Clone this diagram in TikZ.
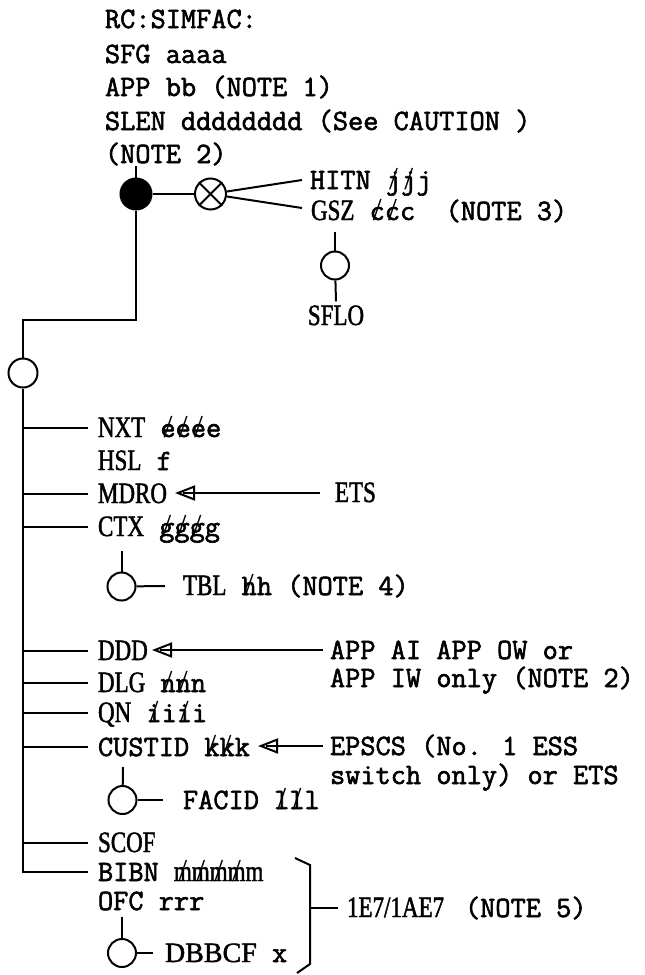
\documentclass[tikz,border=0pt]{standalone}
\usepackage{fontspec}
\setmainfont{Liberation Serif}
\newfontfamily\monof[FakeBold=2]{Latin Modern Mono}
\newfontfamily\condf[FakeStretch=0.78,FakeBold=1.5]{Liberation Serif}
\newfontfamily\serf[FakeBold=1.5]{Liberation Serif}
\newfontfamily\slashf{Liberation Serif}
\usetikzlibrary{arrows.meta,calc}
\newcommand\mno{\monof\fontsize{29.5}{34}\selectfont}
\newcommand\cnd{\condf\fontsize{29.5}{34}\selectfont}
\newcommand\rmn{\serf\fontsize{28}{34}\selectfont}
\newcommand\slt[1]{\ooalign{#1\cr\hidewidth{\slashf\fontsize{32}{34}\selectfont/}\hidewidth\cr}}
\begin{document}
\begin{tikzpicture}[x=1pt,y=-1pt,line width=2pt,
  tx/.style={inner sep=0pt,outer sep=0pt,anchor=base west},
  ring/.style={draw,circle,minimum size=28pt,inner sep=0pt},
  blob/.style={draw,fill=black,circle,minimum size=31pt,inner sep=0pt},
  tri/.style={-{Triangle[open,length=20pt,width=15pt]}}]
\useasboundingbox (0,0) rectangle (645,975);

% header
\node[tx] (h1) at (105,28) {\mno RC:SIMFAC:};
\node[tx] (h2) at (105,63) {\mno SFG aaaa};
\node[tx] (h3) at (105,96) {\mno APP bb (NOTE 1)};
\node[tx] (h4) at (105,130) {\mno SLEN dddddddd (See CAUTION )};
\node[tx] (h5) at (105,163) {\mno (NOTE 2)};

\node[blob] (F) at (136,194) {};
\node[ring,minimum size=31pt] (O) at (210.5,194) {};
\draw (O.north west) -- (O.south east) (O.north east) -- (O.south west);
\coordinate (fs) at (136,166);
\draw (fs) -- (F);
\draw (F) -- (O);

\node[tx] (hitn) at (310,189) {\mno HITN \slt{j}\slt{j}j};
\node[tx] (gsz) at (311,220) {\cnd GSZ\mno\ \makebox[76pt][l]{\slt{c}\slt{c}c}(NOTE 3)};
\coordinate (hE) at (302,180);
\coordinate (gE) at (302,208);
\draw (O) -- (hE);
\draw (O) -- (gE);

% SFLO
\coordinate (st) at (335,232);
\node[ring] (S1) at (335,265.5) {};
\node[tx,anchor=base] (sflo) at (336,325) {\cnd SFLO};
\draw (st) -- (S1);
\draw (S1) -- ([yshift=4pt]sflo.north);

% main trunk
\coordinate (k1) at (136,320);
\coordinate (k2) at (23,320);
\node[ring,minimum size=29pt] (C1) at (23,373) {};
\draw (F) -- (k1) -- (k2) -- (C1);

% list
\node[tx] (nxt) at (98,437) {\cnd NXT\mno\ \slt{e}\slt{e}\slt{e}e};
\node[tx] (hsl) at (98,470) {\cnd HSL\mno\ f};
\node[tx] (mdro) at (98,503) {\cnd MDRO};
\node[tx] (ets) at (335,502) {\cnd ETS};
\node[tx] (ctx) at (98,536) {\cnd CTX\mno\ \slt{g}\slt{g}\slt{g}g};
\node[ring] (T1) at (121.5,586.5) {};
\node[tx] (tbl) at (183,595) {\cnd TBL\mno\ \slt{h}h (NOTE 4)};
\node[tx] (ddd) at (98,660) {\cnd DDD};
\node[tx] (app1) at (330,659) {\mno APP AI APP OW or};
\node[tx] (app2) at (330,687) {\mno APP IW only (NOTE 2)};
\node[tx] (dlg) at (98,692) {\cnd DLG\mno\ \slt{n}\slt{n}n};
\node[tx] (qn) at (98,722) {\cnd QN\mno\ \slt{i}i\slt{i}i};
\node[tx] (cust) at (98,756) {\mno CUSTID \slt{k}\slt{k}k};
\node[tx] (eps1) at (330,755) {\mno EPSCS (No. 1 ESS};
\node[tx] (eps2) at (330,784) {\mno switch only) or ETS};
\node[ring] (FA) at (122.5,800) {};
\node[tx] (facid) at (183,809) {\mno FACID \slt{l}\slt{l}l};
\node[tx] (scof) at (98,852) {\cnd SCOF};
\node[tx] (bibn) at (98,881) {\mno BIBN \cnd\slt{m}\slt{m}\slt{m}\slt{m}m};
\node[tx] (ofc) at (98,910) {\mno OFC rrr};
\node[ring] (DB) at (122,953) {};
\node[tx] (dbb) at (165,962) {\rmn DBBCF\mno\ x};
\node[tx] (e7) at (347,917) {\cnd\makebox[118pt][l]{1E7/1AE7}\mno(NOTE 5)};

\coordinate (kb) at (23,872);
\draw (C1) -- (kb) -- ([shift={(-10,-9)}]bibn.base west);
\foreach \n in {nxt,mdro,ctx,ddd,dlg,qn,cust,scof}
  \draw ([shift={(-10,-9)}]\n.base west) -- ++(-65,0);

% sub rings
\draw ([shift={(23.5,15)}]ctx.base west) -- (T1);
\draw (T1) -- ([shift={(-18,-9)}]tbl.base west);
\draw ([shift={(25,11)}]cust.base west) -- (FA);
\draw (FA) -- ([shift={(-20,-9)}]facid.base west);
\draw ([shift={(24,7)}]ofc.base west) -- (DB);
\draw (DB) -- ([shift={(-12,-9)}]dbb.base west);

% arrows
\coordinate (mt) at (175,493);
\coordinate (dt) at (152,650);
\coordinate (ct) at (258,746);
\draw[tri] ([shift={(-15,-9)}]ets.base west) -- (mt);
\draw[tri] ([shift={(-7,-9)}]app1.base west) -- (dt);
\draw[tri] ([shift={(-7,-9)}]eps1.base west) -- (ct);
\foreach \t in {mt,dt,ct}
  \draw ([xshift=8pt]\t) -- ([xshift=22pt]\t);

% bracket
\coordinate (b1) at (295,858);
\coordinate (b2) at (310,865);
\coordinate (b3) at (310,964);
\coordinate (b4) at (297,973);
\coordinate (bm) at (310,908);
\draw (b1) -- (b2) -- (b3) -- (b4);
\draw (bm) -- ([shift={(-9,-9)}]e7.base west);
\end{tikzpicture}
\end{document}
